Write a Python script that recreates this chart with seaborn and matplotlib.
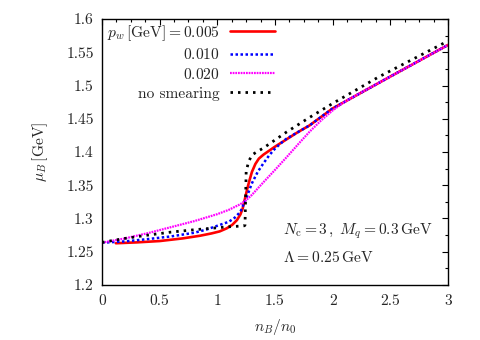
import matplotlib
matplotlib.use("Agg")
import matplotlib.pyplot as plt
import seaborn as sns
import pandas as pd
from matplotlib.ticker import MultipleLocator

# ---- data ----
red_x = [0.12, 0.3, 0.5, 0.7, 0.85, 0.95, 1.02, 1.08, 1.13, 1.17, 1.2, 1.22, 1.24, 1.26, 1.28,
         1.3, 1.33, 1.36, 1.4, 1.45, 1.5, 1.55, 1.6, 1.7, 1.8, 2.0, 2.5, 3.0]
red_y = [1.2627, 1.2640, 1.2660, 1.2700, 1.2740, 1.2775, 1.2805, 1.2850, 1.2905, 1.2975, 1.3060,
         1.3150, 1.3300, 1.3450, 1.3580, 1.3700, 1.3820, 1.3900, 1.3960, 1.4020, 1.4080, 1.4135,
         1.4190, 1.4300, 1.4400, 1.4655, 1.5135, 1.5610]

blue_x = [0.0, 0.2, 0.4, 0.6, 0.8, 0.9, 1.0, 1.1, 1.15, 1.2, 1.25, 1.3, 1.35, 1.4, 1.45, 1.5,
          1.55, 1.6, 1.65, 1.7, 1.8, 2.0, 2.5, 3.0]
blue_y = [1.2635, 1.2655, 1.2690, 1.2730, 1.2785, 1.2830, 1.2890, 1.2950, 1.3010, 1.3100, 1.3300,
          1.3530, 1.3700, 1.3830, 1.3950, 1.4050, 1.4130, 1.4200, 1.4250, 1.4300, 1.4400, 1.4655,
          1.5135, 1.5610]

mag_x = [0.0, 0.2, 0.4, 0.6, 0.8, 1.0, 1.1, 1.2, 1.25, 1.3, 1.35, 1.4, 1.5, 1.6, 1.7, 1.8, 1.9,
         2.0, 2.1, 2.2, 2.5, 3.0]
mag_y = [1.2635, 1.2700, 1.2780, 1.2870, 1.2960, 1.3065, 1.3130, 1.3215, 1.3275, 1.3355, 1.3450,
         1.3545, 1.3730, 1.3920, 1.4115, 1.4305, 1.4475, 1.4625, 1.4750, 1.4850, 1.5135, 1.5610]

blk_x = [0.0, 0.2, 0.4, 0.6, 0.8, 1.0, 1.1, 1.2, 1.235, 1.24, 1.245, 1.25, 1.27, 1.3, 1.35, 1.4,
         1.5, 1.6, 1.8, 2.0, 2.4, 3.0]
blk_y = [1.2640, 1.2700, 1.2750, 1.2795, 1.2830, 1.2860, 1.2875, 1.2885, 1.2890, 1.2900, 1.3300,
         1.3700, 1.3850, 1.3955, 1.4010, 1.4060, 1.4180, 1.4300, 1.4520, 1.4730, 1.5130, 1.5670]

labels = [r"$p_w\,[{\rm GeV}] = 0.005$", r"$0.010$", r"$0.020$", "no smearing"]
x_ticks = [0, 0.5, 1, 1.5, 2, 2.5, 3]
y_ticks = [1.2, 1.25, 1.3, 1.35, 1.4, 1.45, 1.5, 1.55, 1.6]

sns.set_style("white")
plt.rcParams["font.family"] = ["cmr10", "DejaVu Serif"]
plt.rcParams["mathtext.fontset"] = "cm"
plt.rcParams["axes.formatter.use_mathtext"] = True
plt.rcParams["font.size"] = 11.2

fig = plt.figure(figsize=(4.8, 3.4), dpi=100)
ax = fig.add_axes([0.2125, 0.162, 0.7208, 0.782])

series = [
    (red_x, red_y, "#ff0000", "-", 1.9),
    (blue_x, blue_y, "#0000ff", (0, (1.0, 1.0)), 1.8),
    (mag_x, mag_y, "#ff00ff", (0, (0.8, 0.4)), 1.6),
    (blk_x, blk_y, "#000000", (0, (0.9, 1.8)), 2.0),
]
for (xs, ys, c, ls, lw), lab in zip(series, labels):
    df = pd.DataFrame({"x": xs, "y": ys})
    sns.lineplot(data=df, x="x", y="y", ax=ax, color=c, linestyle=ls, linewidth=lw,
                 label=lab, sort=False, estimator=None)

ax.set_xlim(0, 3)
ax.set_ylim(1.2, 1.6)
ax.set_xticks(x_ticks)
ax.set_yticks(y_ticks)
ax.set_xticklabels([f"{t:g}" for t in x_ticks])
ax.set_yticklabels([f"{t:g}" for t in y_ticks])
ax.xaxis.set_minor_locator(MultipleLocator(0.125))
ax.yaxis.set_minor_locator(MultipleLocator(0.025))
ax.tick_params(which="both", direction="in", top=True, right=True, color="black")
ax.tick_params(which="major", length=4, width=0.8)
ax.tick_params(which="minor", length=2, width=0.8)
ax.tick_params(axis="y", pad=6)
ax.tick_params(axis="x", pad=7)
for s in ax.spines.values():
    s.set_color("black")
    s.set_linewidth(1.0)

ax.set_xlabel(r"$n_B/n_0$", labelpad=6)
ax.set_ylabel(r"$\mu_B\,[{\rm GeV}]$", labelpad=12)

leg = ax.legend(loc="upper right", bbox_to_anchor=(0.512, 1.0), frameon=False,
                markerfirst=False, handlelength=2.9, labelspacing=0.3,
                borderaxespad=0.15, borderpad=0.1, handletextpad=0.65)

ax.text(0.523, 0.203, r"$N_{\rm c} = 3\,,\; M_q = 0.3\,{\rm GeV}$", transform=ax.transAxes,
        ha="left", va="center")
ax.text(0.523, 0.105, r"$\Lambda = 0.25\,{\rm GeV}$", transform=ax.transAxes,
        ha="left", va="center")

fig.savefig("out.png", dpi=100)
